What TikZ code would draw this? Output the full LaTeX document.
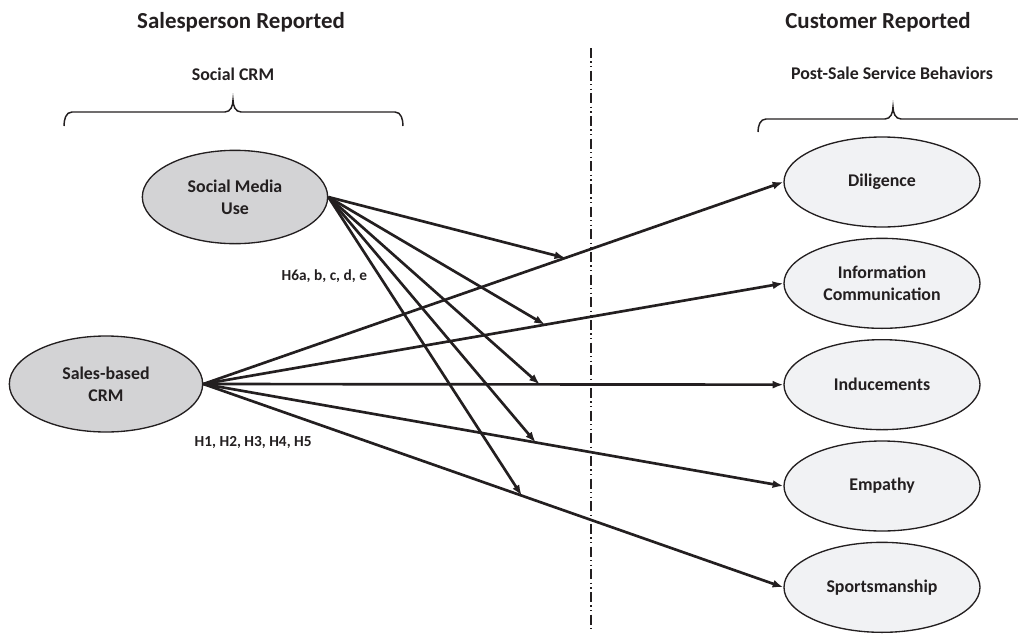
\documentclass[tikz,border=0pt]{standalone}
\usepackage{fontspec}
\setmainfont{Carlito}
\usepackage{tikz}
\usetikzlibrary{positioning, shapes.geometric, arrows.meta, calc}
\definecolor{ovalgrey}{HTML}{D3D3D5}
\definecolor{ovallight}{HTML}{F1F2F4}
\definecolor{inkblack}{HTML}{231F20}

\begin{document}
\begin{tikzpicture}[x=0.75pt, y=-0.75pt,
                construct/.style={draw=inkblack, line width=1pt, ellipse, inner sep=0pt, align=center, text=inkblack, font=\fontsize{13.4}{16.5}\selectfont\bfseries},
                crmvar/.style={construct, fill=ovalgrey},
                outcome/.style={construct, fill=ovallight, minimum width=147pt, minimum height=67.5pt},
                effect/.style={draw=inkblack, line width=2pt, -{Latex[length=8pt, width=6pt]}},
                heading/.style={anchor=base, text=inkblack, font=\fontsize{17.2}{20}\selectfont\bfseries},
                grouplabel/.style={anchor=base, text=inkblack, font=\fontsize{13.4}{16}\selectfont\bfseries},
                hyplabel/.style={anchor=base west, text=inkblack, font=\fontsize{11.5}{14}\selectfont\bfseries},
                groupbrace/.style={draw=inkblack, line width=1.1pt},
                divider/.style={draw=inkblack, line width=1.2pt, dash pattern=on 7.5pt off 2.5pt on 1pt off 2.5pt on 1pt off 2.5pt}
            ]
            \useasboundingbox (0,0) rectangle (1018,636);

            % Headings
            \node[heading] (salesrep) at (241,28) {Salesperson Reported};
            \node[heading] (custrep) at (878,28) {Customer Reported};
            \node[grouplabel] (scrm) at (233,80) {Social CRM};
            \node[grouplabel] (pssb) at (892,79) {Post-Sale Service Behaviors};

            % Braces
            \draw[groupbrace] (64,126) to[out=90, in=180] (72,112) -- (225,112) to[out=0, in=-90] (233,100) to[out=-90, in=180] (241,112) -- (395,112) to[out=0, in=90] (403,126);
            \draw[groupbrace] (758,132) to[out=90, in=180] (766,119) -- (885,119) to[out=0, in=-90] (893,107) to[out=-90, in=180] (901,119) -- (1020,119) to[out=0, in=90] (1028,132);

            % Divider
            \draw[divider] (591,48) -- (591,630);

            % Constructs
            \node[crmvar, minimum width=139pt, minimum height=70pt] (smu) at (235,197) {Social Media\\Use};
            \node[crmvar, minimum width=145pt, minimum height=72pt] (sbc) at (106,384) {Sales-based\\CRM};
            \node[outcome] (dil) at (882,182) {Diligence};
            \node[outcome, below=7.5pt of dil] (info) {Information\\Communication};
            \node[outcome, below=7.5pt of info] (induc) {Inducements};
            \node[outcome, below=7.5pt of induc] (emp) {Empathy};
            \node[outcome, below=7.5pt of emp] (sport) {Sportsmanship};

            % Main effects
            \draw[effect] (sbc.east) -- (dil.west);
            \draw[effect] (sbc.east) -- (info.west);
            \draw[effect] (sbc.east) -- (induc.west);
            \draw[effect] (sbc.east) -- (emp.west);
            \draw[effect] (sbc.east) -- (sport.west);

            % Moderating effects
            \coordinate (mdil) at ($(sbc.east)!0.624!(dil.west)$);
            \coordinate (minfo) at ($(sbc.east)!0.589!(info.west)$);
            \coordinate (minduc) at ($(sbc.east)!0.58!(induc.west)$);
            \coordinate (memp) at ($(sbc.east)!0.573!(emp.west)$);
            \coordinate (msport) at ($(sbc.east)!0.549!(sport.west)$);
            \draw[effect] (smu.east) -- (mdil);
            \draw[effect] (smu.east) -- (minfo);
            \draw[effect] (smu.east) -- (minduc);
            \draw[effect] (smu.east) -- (memp);
            \draw[effect] (smu.east) -- (msport);

            % Hypotheses
            \node[hyplabel] (hsix) at (277,280) {H6a, b, c, d, e};
            \node[hyplabel] (hone) at (190,446) {H1, H2, H3, H4, H5};

        \end{tikzpicture}
\end{document}
